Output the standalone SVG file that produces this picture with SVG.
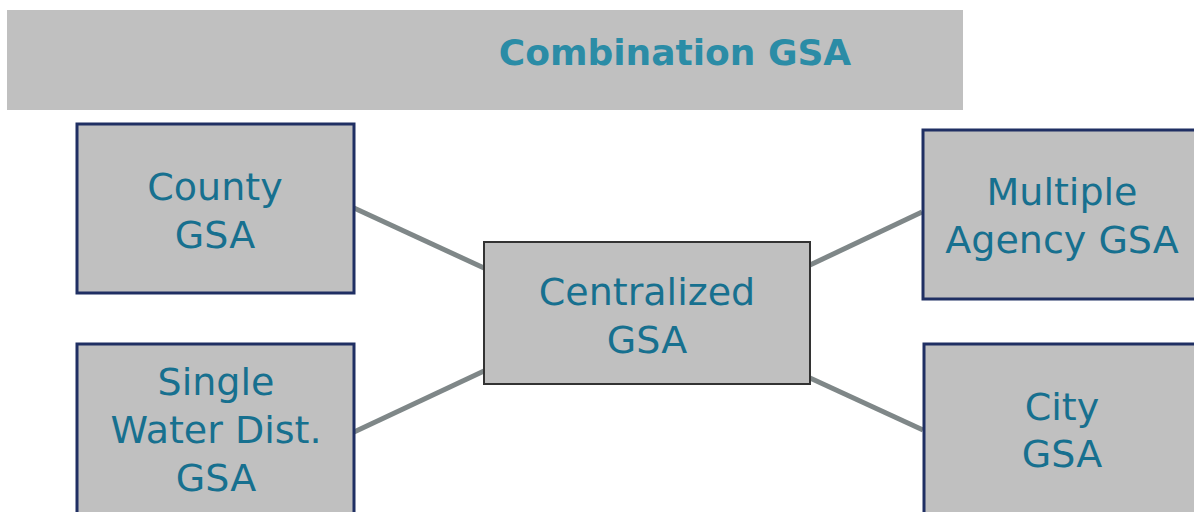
<svg xmlns="http://www.w3.org/2000/svg" width="1194" height="512" viewBox="0 0 1194 512">
  <style>
    .node { fill: #c0c0c0; stroke: #1f2f63; stroke-width: 3; }
    .center { fill: #c0c0c0; stroke: #333333; stroke-width: 2; }
    .label { font-family: "DejaVu Sans", Verdana, sans-serif; font-size: 38px; fill: #17708f; text-anchor: middle; }
    .title { font-family: "DejaVu Sans", Verdana, sans-serif; font-size: 36px; font-weight: bold; fill: #2b8ca6; text-anchor: middle; }
    .conn { stroke: #7f8788; stroke-width: 5; fill: none; }
  </style>
  <rect x="0" y="0" width="1194" height="512" fill="#ffffff"/>
  <g id="banner">
    <rect x="7" y="10" width="956" height="100" fill="#c0c0c0"/>
    <text class="title" x="675" y="65">Combination GSA</text>
  </g>
  <g id="connectors">
    <line class="conn" x1="354" y1="208" x2="484" y2="268"/>
    <line class="conn" x1="354" y1="432" x2="484" y2="371"/>
    <line class="conn" x1="810" y1="265" x2="922" y2="212"/>
    <line class="conn" x1="810" y1="378" x2="923" y2="430"/>
  </g>
  <g id="county">
    <rect class="node" x="77" y="124" width="277" height="169"/>
    <text class="label" x="215" y="200">County</text>
    <text class="label" x="215" y="248">GSA</text>
  </g>
  <g id="single">
    <rect class="node" x="77" y="344" width="277" height="180"/>
    <text class="label" x="216" y="395">Single</text>
    <text class="label" x="216" y="443">Water Dist.</text>
    <text class="label" x="216" y="491">GSA</text>
  </g>
  <g id="centralized">
    <rect class="center" x="484" y="242" width="326" height="142"/>
    <text class="label" x="647" y="305">Centralized</text>
    <text class="label" x="647" y="353">GSA</text>
  </g>
  <g id="multiple">
    <rect class="node" x="923" y="130" width="280" height="169"/>
    <text class="label" x="1062" y="205">Multiple</text>
    <text class="label" x="1062" y="253">Agency GSA</text>
  </g>
  <g id="city">
    <rect class="node" x="924" y="344" width="280" height="180"/>
    <text class="label" x="1062" y="420">City</text>
    <text class="label" x="1062" y="467">GSA</text>
  </g>
</svg>
